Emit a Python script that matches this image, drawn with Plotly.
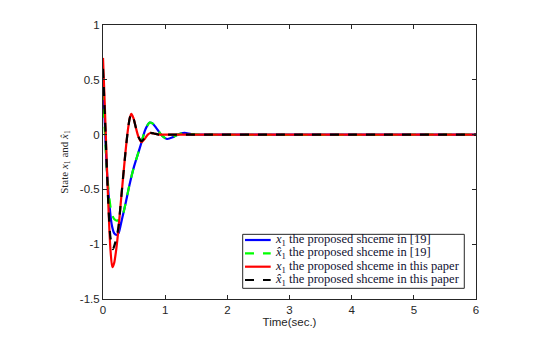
import plotly.graph_objects as go

# ---- data ----
t_red = [0, 0.03, 0.06, 0.09, 0.12, 0.15, 0.18, 0.21, 0.24, 0.28, 0.32, 0.36, 0.40, 0.43, 0.456,
         0.49, 0.53, 0.57, 0.62, 0.67, 0.72, 0.76, 0.82, 0.9, 1.0, 6]
x1_paper = [0.70, 0.25, -0.25, -0.70, -1.05, -1.21, -1.17, -1.06, -0.91, -0.66, -0.41, -0.17, 0.04,
            0.15, 0.19, 0.15, 0.06, -0.02, -0.07, -0.04, 0.0, 0.015, 0.01, 0.0, 0.0, 0.0]

t_black = [0, 0.03, 0.06, 0.09, 0.12, 0.16, 0.19, 0.22, 0.25, 0.28, 0.32, 0.36, 0.40, 0.43, 0.456,
           0.49, 0.53, 0.57, 0.62, 0.67, 0.72, 0.76, 0.82, 0.9, 1.0, 6]
xh1_paper = [0.60, 0.18, -0.28, -0.68, -0.94, -1.045, -1.0, -0.93, -0.84, -0.66, -0.41, -0.17, 0.04,
             0.15, 0.19, 0.15, 0.06, -0.02, -0.06, -0.03, 0.01, 0.015, 0.01, 0.0, 0.0, 0.0]

t_blue = [0, 0.03, 0.06, 0.10, 0.14, 0.18, 0.22, 0.25, 0.29, 0.33, 0.37, 0.41, 0.45, 0.50, 0.56,
          0.62, 0.67, 0.71, 0.75, 0.80, 0.87, 0.95, 1.03, 1.12, 1.2, 1.31, 1.42, 1.6, 6]
x1_ref = [0.50, 0.10, -0.30, -0.62, -0.82, -0.90, -0.915, -0.90, -0.81, -0.71, -0.61, -0.50, -0.40,
          -0.29, -0.18, -0.07, 0.03, 0.08, 0.11, 0.10, 0.05, -0.01, -0.04, -0.025, 0.0, 0.015, 0.005,
          0.0, 0.0]

t_green = [0, 0.03, 0.06, 0.10, 0.14, 0.18, 0.22, 0.26, 0.30, 0.33, 0.37, 0.41, 0.45, 0.50, 0.56,
           0.62, 0.67, 0.71, 0.75, 0.80, 0.87, 0.95, 1.03, 1.12, 1.2, 1.31, 1.42, 1.6, 6]
xh1_ref = [0.40, 0.02, -0.30, -0.57, -0.72, -0.77, -0.785, -0.78, -0.77, -0.71, -0.61, -0.50, -0.40,
           -0.29, -0.18, -0.07, 0.03, 0.08, 0.11, 0.10, 0.05, -0.01, -0.04, -0.025, 0.0, 0.015, 0.005,
           0.0, 0.0]

x_ticks = [0, 1, 2, 3, 4, 5, 6]
x_tick_labels = ["0", "1", "2", "3", "4", "5", "6"]
y_ticks = [-1.5, -1, -0.5, 0, 0.5, 1]
y_tick_labels = ["-1.5", "-1", "-0.5", "0", "0.5", "1"]

names = [
    "<i>x</i><sub>1</sub> the proposed shceme in [19]",
    "<i>x̂</i><sub>1</sub> the proposed shceme in [19]",
    "<i>x</i><sub>1</sub> the proposed shceme in this paper",
    "<i>x̂</i><sub>1</sub> the proposed shceme in this paper",
]
colors = ["#0000ff", "#00ff00", "#ff0000", "#000000"]
dashes = ["solid", "dash", "solid", "dash"]

fig = go.Figure()
series = [(t_blue, x1_ref), (t_green, xh1_ref), (t_red, x1_paper), (t_black, xh1_paper)]
for (tx, ty), nm, col, dash in zip(series, names, colors, dashes):
    fig.add_trace(go.Scatter(x=tx, y=ty, mode="lines", name=nm, showlegend=False,
                             line=dict(color=col, width=2.2, dash=dash, shape="spline", smoothing=0.7)))

# ---- legend drawn as a boxed key in paper coordinates ----
box = dict(x0=0.3745, x1=0.9686, y0=0.039, y1=0.236)
row_y = [0.2153, 0.1668, 0.1179, 0.0693]
fig.add_shape(type="rect", xref="paper", yref="paper", **box,
              line=dict(color="#262626", width=1), fillcolor="white", layer="above")
for nm, col, dash, yy in zip(names, colors, dashes, row_y):
    fig.add_shape(type="line", xref="paper", yref="paper", x0=0.3807, x1=0.4496, y0=yy, y1=yy,
                  line=dict(color=col, width=2.2, dash=dash), layer="above")
    fig.add_annotation(xref="paper", yref="paper", x=0.455, y=yy, text=nm, showarrow=False,
                       xanchor="left", yanchor="middle",
                       font=dict(family="Liberation Serif", size=12.5, color="#101030"))

axcol = "#262626"
fig.update_layout(
    width=549, height=341,
    margin=dict(l=95, r=81, t=17, b=50),
    paper_bgcolor="white", plot_bgcolor="white",
    showlegend=False,
    xaxis=dict(range=[0, 6], tickvals=x_ticks, ticktext=x_tick_labels,
               ticks="inside", ticklen=4, tickcolor=axcol, showgrid=False, zeroline=False,
               showline=True, linecolor=axcol, linewidth=1, mirror="ticks",
               tickfont=dict(family="Liberation Sans", size=11.5, color=axcol),
               title=dict(text="Time(sec.)", font=dict(family="Liberation Sans", size=11.5, color=axcol),
                          standoff=3)),
    yaxis=dict(range=[-1.5, 1], tickvals=y_ticks, ticktext=y_tick_labels,
               ticks="inside", ticklen=4, tickcolor=axcol, showgrid=False, zeroline=False,
               showline=True, linecolor=axcol, linewidth=1, mirror="ticks",
               tickfont=dict(family="Liberation Sans", size=11.5, color=axcol),
               title=dict(text="State <i>x</i><sub>1</sub> and <i>x̂</i><sub>1</sub>",
                          font=dict(family="Liberation Serif", size=11, color=axcol),
                          standoff=9)),
)

fig.write_html("out.html")
